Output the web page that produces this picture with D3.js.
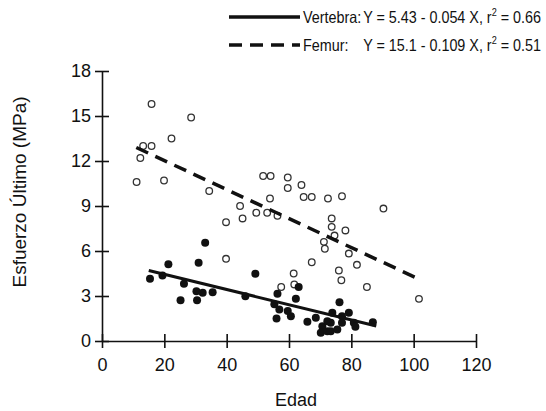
<!DOCTYPE html>
<meta charset="utf-8">
<head>
<style type="text/css">
  body { margin: 0; background: #fff; }
  svg text { font-family: "Liberation Sans", Arial, sans-serif; fill: #111; }
  .axis path, .axis line { stroke: #111; stroke-width: 1.6; }
</style>
</head>
<body>
<div id="vis"></div>
<script src="https://d3js.org/d3.v7.min.js"></script>
<script>
// ages / strength (MPa)
var vertebraX = [15.4,19.4,21.3,26.3,25.2,31.0,33.1,30.3,32.3,30.5,35.5,46.0,49.2,56.3,55.3,56.9,56.0,
                 63.1,62.2,60.6,59.6,65.9,68.6,70.7,70.2,72.3,76.2,73.9,79.2,77.0,73.4,77.0,80.8,86.9,73.4,75.5,81.3,72.3];
var vertebraY = [4.15,4.37,5.12,3.81,2.72,5.21,6.55,3.32,3.21,2.72,3.25,2.99,4.48,3.15,2.45,2.1,1.5,
                 3.6,2.81,1.65,2.0,1.28,1.55,0.99,0.55,0.65,2.59,1.88,1.88,1.65,1.21,1.21,1.21,1.25,0.65,0.77,0.95,1.32];

var femurX = [15.9,28.6,22.3,13.2,15.9,12.3,11.1,19.9,34.4,51.7,54.1,59.6,59.6,64.0,64.7,67.3,72.5,77.0,90.3,
              53.9,44.3,39.8,39.8,45.1,49.5,53.0,56.3,57.5,73.7,73.7,74.6,78.1,71.2,71.5,79.2,67.3,81.8,
              61.5,61.7,76.0,76.8,85.0,101.7];
var femurY = [15.8,14.9,13.5,13.0,13.0,12.2,10.6,10.7,10.0,11.0,11.0,10.9,10.2,10.4,9.6,9.6,9.5,9.65,8.83,
              9.5,9.0,7.92,5.48,8.17,8.55,8.55,8.35,3.6,8.17,7.61,7.03,7.37,6.61,6.15,5.83,5.25,5.08,
              4.5,3.77,4.7,4.05,3.6,2.81];

// regression lines as drawn (end points)
var vertebraFitX = [15, 88], vertebraFitY = [4.7, 1.0];
var femurFitX = [11, 102], femurFitY = [12.9, 4.1];

var xTicks = [0, 20, 40, 60, 80, 100, 120];
var yTicks = [0, 3, 6, 9, 12, 15, 18];

var width = 546, height = 411;
var svg = d3.select("#vis").append("svg")
    .attr("width", width)
    .attr("height", height);

var x = d3.scaleLinear().domain([0, 120]).range([102, 476]);
var y = d3.scaleLinear().domain([0, 18]).range([341, 71]);

// axes, ticks crossing the line
var xAxis = svg.append("g").attr("class", "axis")
    .attr("transform", "translate(0," + y(0) + ")")
    .call(d3.axisBottom(x).tickValues(xTicks).tickSize(7).tickSizeOuter(0));
xAxis.selectAll(".tick line").attr("y1", -7);
xAxis.selectAll(".tick text").attr("dy", "1.1em").style("font-size", "18px");

var yAxis = svg.append("g").attr("class", "axis")
    .attr("transform", "translate(" + x(0) + ",0)")
    .call(d3.axisLeft(y).tickValues(yTicks).tickSize(7).tickSizeOuter(0));
yAxis.selectAll(".tick line").attr("x1", 7);
yAxis.selectAll(".tick text").attr("x", -11).style("font-size", "18px");

// femur (open circles)
svg.append("g").selectAll("circle")
    .data(d3.range(femurX.length))
    .join("circle")
    .attr("cx", function(i) { return x(femurX[i]); })
    .attr("cy", function(i) { return y(femurY[i]); })
    .attr("r", 3.3)
    .attr("fill", "#fff")
    .attr("stroke", "#333")
    .attr("stroke-width", 1.3);

// vertebra (filled)
svg.append("g").selectAll("circle")
    .data(d3.range(vertebraX.length))
    .join("circle")
    .attr("cx", function(i) { return x(vertebraX[i]); })
    .attr("cy", function(i) { return y(vertebraY[i]); })
    .attr("r", 4)
    .attr("fill", "#111");

var line = d3.line()
    .x(function(d) { return x(d[0]); })
    .y(function(d) { return y(d[1]); });

svg.append("path")
    .attr("d", line(d3.zip(femurFitX, femurFitY)))
    .attr("fill", "none").attr("stroke", "#111")
    .attr("stroke-width", 3.5).attr("stroke-dasharray", "13,8");

svg.append("path")
    .attr("d", line(d3.zip(vertebraFitX, vertebraFitY)))
    .attr("fill", "none").attr("stroke", "#111")
    .attr("stroke-width", 3);

// legend (text squeezed a little horizontally, like the original type)
var sx = 0.87;
var legend = [
  {name: "Vertebra:", eq: "Y = 5.43 - 0.054 X, r", r2: " = 0.66", dash: null, y: 17},
  {name: "Femur:", eq: "Y = 15.1 - 0.109 X, r", r2: " = 0.51", dash: "13,8", y: 45}
];
legend.forEach(function(l) {
  svg.append("line")
      .attr("x1", 229).attr("x2", 300)
      .attr("y1", l.y).attr("y2", l.y)
      .attr("stroke", "#111").attr("stroke-width", 3.5)
      .attr("stroke-dasharray", l.dash);
  var g = svg.append("g")
      .attr("transform", "translate(303," + (l.y + 6) + ") scale(" + sx + ",1)");
  g.append("text").attr("x", 0).style("font-size", "16.5px").text(l.name);
  var t = g.append("text").attr("x", (541 - 303) / sx)
      .attr("text-anchor", "end")
      .style("font-size", "16.5px");
  t.append("tspan").text(l.eq);
  t.append("tspan").attr("dy", -7).style("font-size", "10.5px").text("2");
  t.append("tspan").attr("dy", 7).text(l.r2);
});

// axis titles
svg.append("text")
    .attr("text-anchor", "middle")
    .attr("transform", "translate(26,192) rotate(-90)")
    .style("font-size", "19px")
    .text("Esfuerzo Último (MPa)");

svg.append("text")
    .attr("text-anchor", "middle")
    .attr("x", 296).attr("y", 406)
    .style("font-size", "18px")
    .text("Edad");
</script>
</body>
